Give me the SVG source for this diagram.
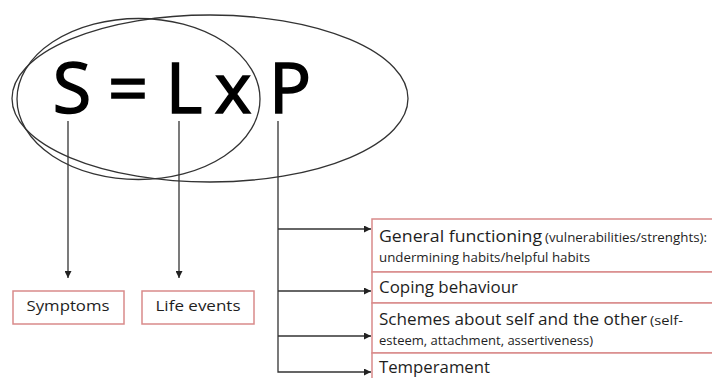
<svg xmlns="http://www.w3.org/2000/svg" width="712" height="378" viewBox="0 0 712 378">
<style>
.big{font-family:"Open Sans","Liberation Sans",sans-serif;font-size:70px;fill:#000;stroke:#000;stroke-width:1.6;text-anchor:middle}
.t{font-family:"Open Sans","Liberation Sans",sans-serif;fill:#1e1e1e}
.box{fill:#fff;stroke:#d98a8a;stroke-width:1.5}
.ln{fill:none;stroke:#333;stroke-width:1.3}
.el{fill:none;stroke:#333;stroke-width:1.3}
</style>
<defs>
<marker id="ah" viewBox="0 0 10 10" refX="10" refY="5" markerWidth="7" markerHeight="7" orient="auto" markerUnits="userSpaceOnUse">
<path d="M0,0 L10,5 L0,10 z" fill="#222"/>
</marker>
</defs>
<g id="formula">
<ellipse class="el" cx="210" cy="98.5" rx="198" ry="83.5"/>
<ellipse class="el" cx="138.5" cy="99" rx="121.5" ry="80.5"/>
<text class="big" x="72" y="113">S</text>
<text class="big" x="128" y="113">=</text>
<text class="big" x="184" y="113">L</text>
<text class="big" x="233" y="113">x</text>
<text class="big" x="290" y="113">P</text>
</g>
<g id="connectors">
<line class="ln" x1="68" y1="121" x2="68" y2="278" marker-end="url(#ah)"/>
<line class="ln" x1="179" y1="121" x2="179" y2="278" marker-end="url(#ah)"/>
<polyline class="ln" points="278,121 278,372 371,372" marker-end="url(#ah)"/>
<line class="ln" x1="278" y1="229" x2="371" y2="229" marker-end="url(#ah)"/>
<line class="ln" x1="278" y1="291" x2="371" y2="291" marker-end="url(#ah)"/>
<line class="ln" x1="278" y1="336" x2="371" y2="336" marker-end="url(#ah)"/>
</g>
<g id="symptoms">
<rect class="box" x="13" y="291" width="111" height="33"/>
<text class="t" x="68" y="311" font-size="15" text-anchor="middle" textLength="83" lengthAdjust="spacingAndGlyphs">Symptoms</text>
</g>
<g id="life-events">
<rect class="box" x="142" y="291" width="112" height="33"/>
<text class="t" x="198" y="311" font-size="15" text-anchor="middle" textLength="85" lengthAdjust="spacingAndGlyphs">Life events</text>
</g>
<g id="general-functioning">
<rect class="box" x="372" y="219" width="345" height="53"/>
<text class="t" x="379" y="242" font-size="16" textLength="163" lengthAdjust="spacingAndGlyphs">General functioning</text>
<text class="t" x="545" y="242" font-size="12" textLength="162" lengthAdjust="spacingAndGlyphs">(vulnerabilities/strenghts):</text>
<text class="t" x="379" y="262" font-size="12" textLength="211" lengthAdjust="spacingAndGlyphs">undermining habits/helpful habits</text>
</g>
<g id="coping">
<rect class="box" x="372" y="272" width="345" height="31"/>
<text class="t" x="379" y="293" font-size="16" textLength="139" lengthAdjust="spacingAndGlyphs">Coping behaviour</text>
</g>
<g id="schemes">
<rect class="box" x="372" y="303" width="345" height="50"/>
<text class="t" x="379" y="325" font-size="16" textLength="268" lengthAdjust="spacingAndGlyphs">Schemes about self and the other</text>
<text class="t" x="650" y="325" font-size="12" textLength="33" lengthAdjust="spacingAndGlyphs">(self-</text>
<text class="t" x="379" y="345" font-size="12" textLength="214" lengthAdjust="spacingAndGlyphs">esteem, attachment, assertiveness)</text>
</g>
<g id="temperament">
<rect class="box" x="372" y="353" width="345" height="40"/>
<text class="t" x="379" y="373" font-size="16" textLength="111" lengthAdjust="spacingAndGlyphs">Temperament</text>
</g>
</svg>
